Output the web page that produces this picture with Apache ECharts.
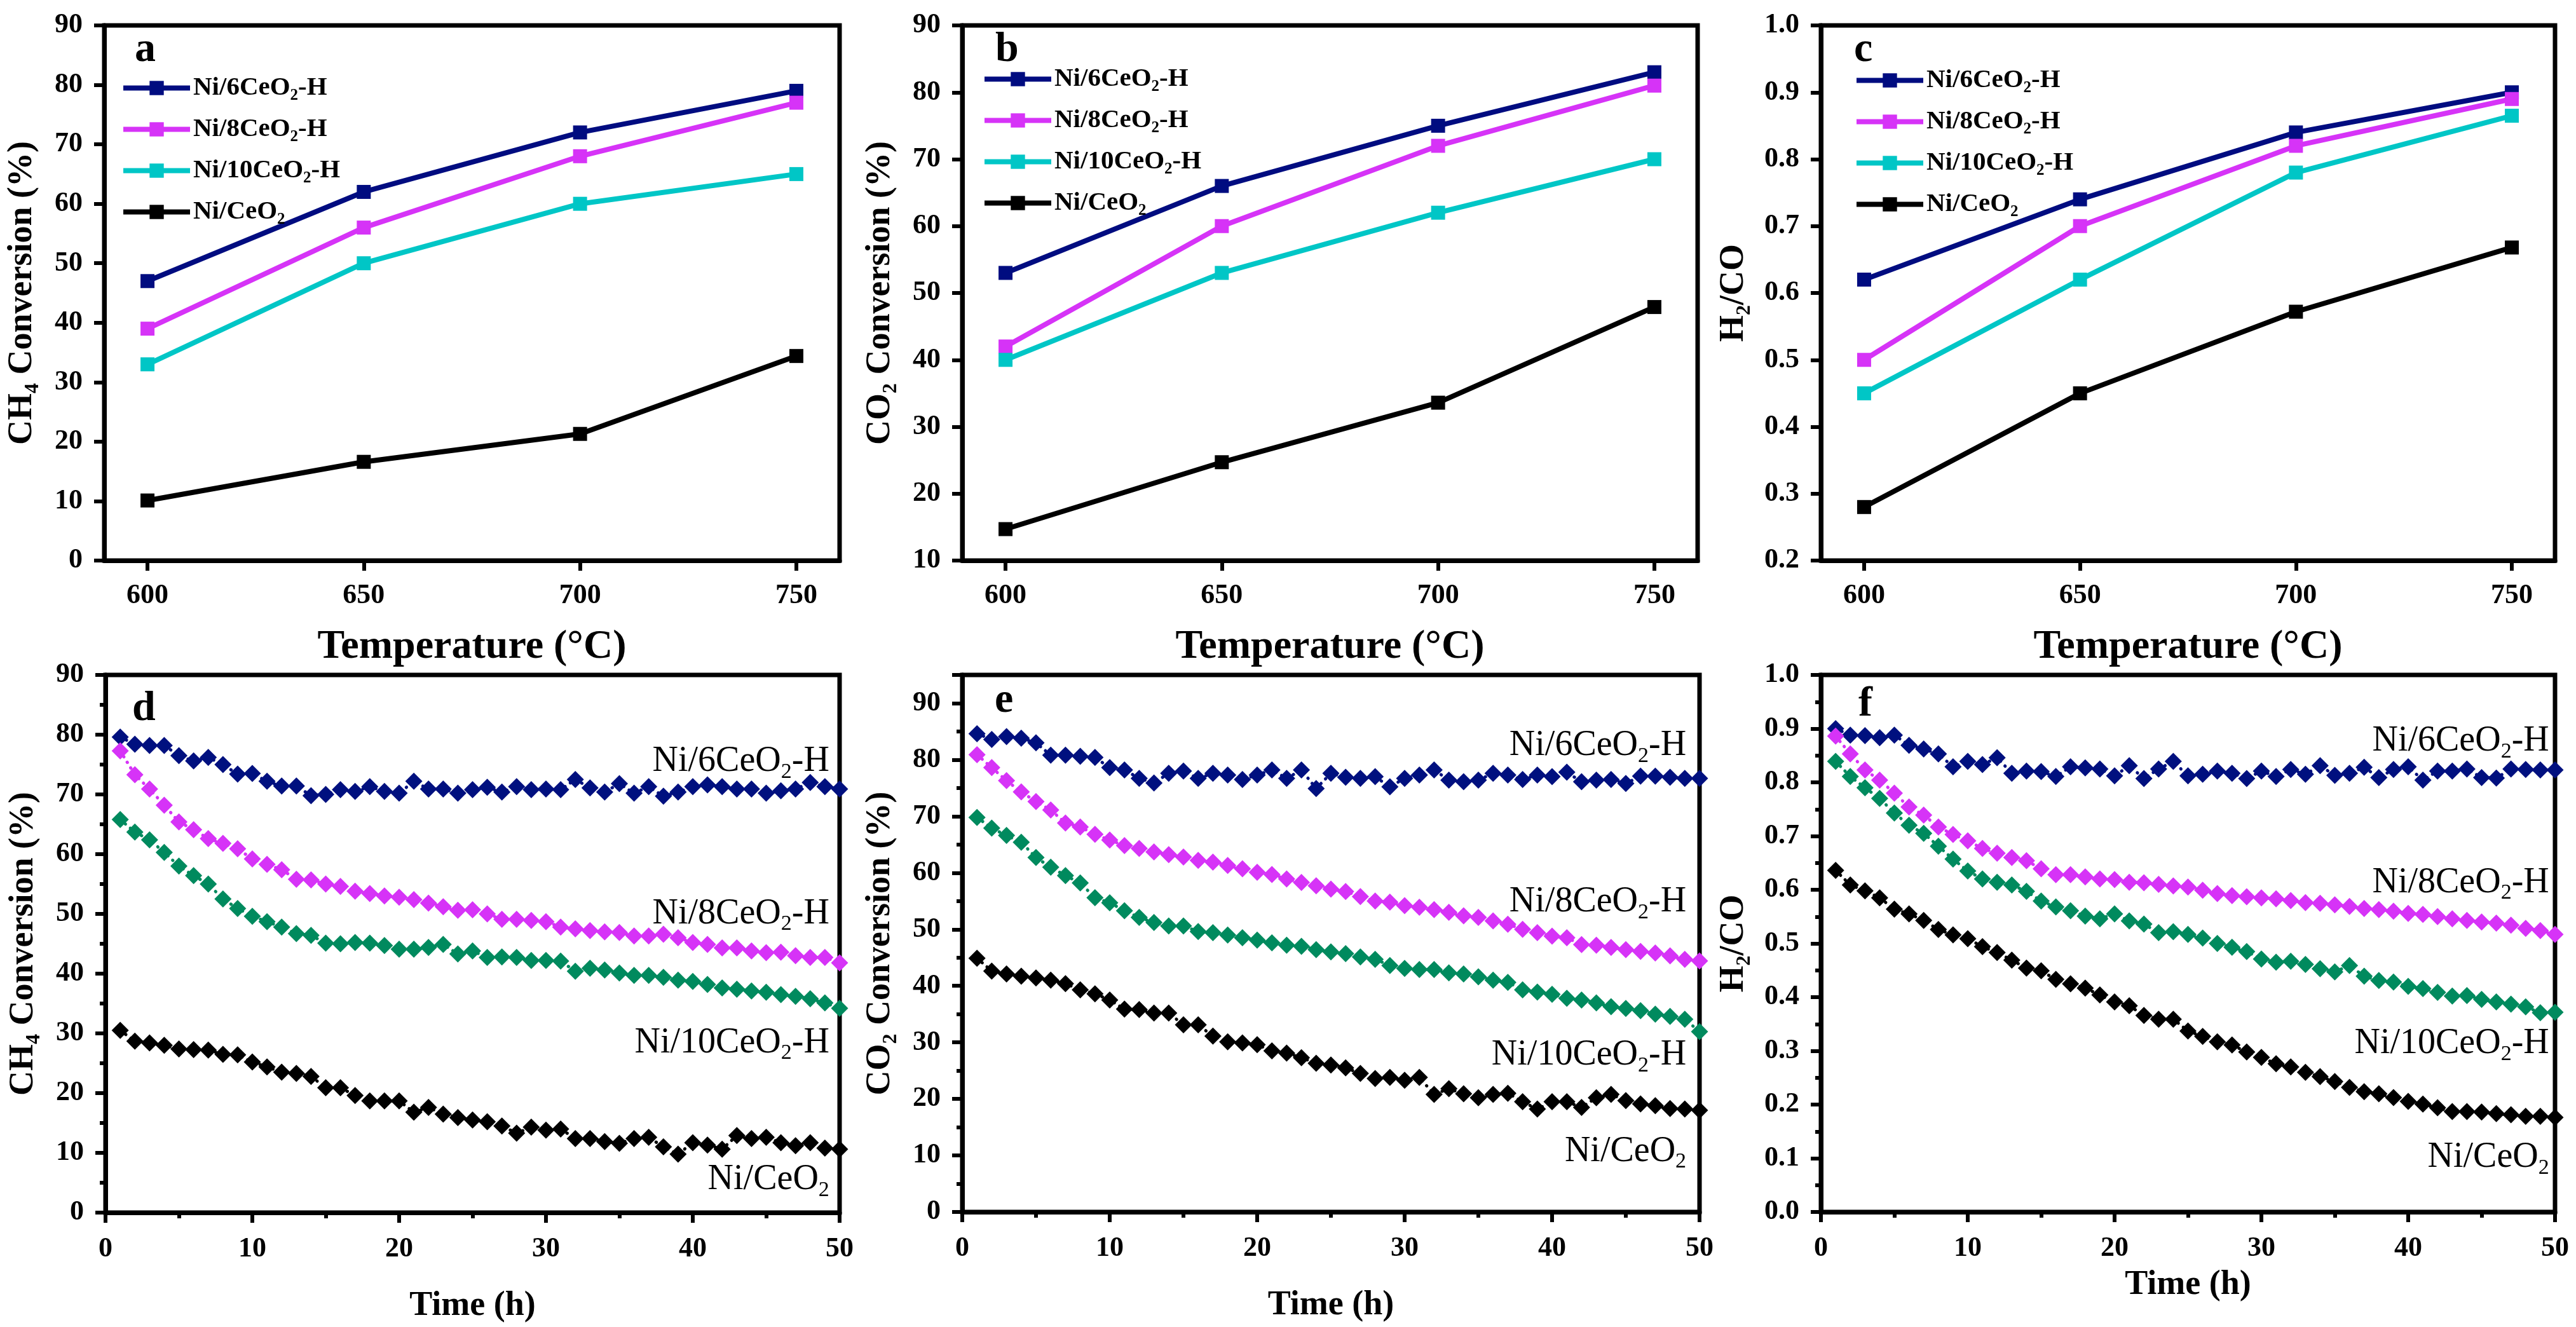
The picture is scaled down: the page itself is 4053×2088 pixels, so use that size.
<!DOCTYPE html>
<html lang="en">
<head>
    <meta charset="UTF-8">
    <title>Ni/CeO2 catalysts</title>
    <script src="https://cdn.jsdelivr.net/npm/echarts@6.0.0/dist/echarts.min.js"></script>
    <style>
        body { margin: 0; background: #fff; }
        #chart { width: 4053px; height: 2088px; }
    </style>
</head>
<body>
<div id="chart"></div>
<script>
    // ---- data ----
    let names = ['Ni/6CeO2-H', 'Ni/8CeO2-H', 'Ni/10CeO2-H', 'Ni/CeO2'];
    let temps = [600, 650, 700, 750];
    let hours = [1, 2, 3, 4, 5, 6, 7, 8, 9, 10, 11, 12, 13, 14, 15, 16, 17, 18, 19, 20,
        21, 22, 23, 24, 25, 26, 27, 28, 29, 30, 31, 32, 33, 34, 35, 36, 37, 38, 39, 40,
        41, 42, 43, 44, 45, 46, 47, 48, 49, 50];

    // a: CH4 conversion vs temperature
    let ch4Temp = [
        [47, 62, 72, 79],
        [39, 56, 68, 77],
        [33, 50, 60, 65],
        [10.1, 16.6, 21.3, 34.4]
    ];
    // b: CO2 conversion vs temperature
    let co2Temp = [
        [53, 66, 75, 83],
        [42, 60, 72, 81],
        [40, 53, 62, 70],
        [14.7, 24.7, 33.6, 47.9]
    ];
    // c: H2/CO vs temperature
    let ratioTemp = [
        [0.62, 0.74, 0.84, 0.90],
        [0.50, 0.70, 0.82, 0.89],
        [0.45, 0.62, 0.78, 0.865],
        [0.28, 0.45, 0.572, 0.668]
    ];

    // d: CH4 conversion vs time
    let ch4Time6 = [79.6, 78.4, 78.2, 78.2, 76.5, 75.6, 76.2, 75.0, 73.4, 73.5, 72.2, 71.4, 71.4, 69.8, 70.0, 70.8, 70.5, 71.3, 70.5, 70.2,
        72.2, 70.9, 70.9, 70.2, 70.8, 71.2, 70.4, 71.3, 70.8, 70.9, 70.8, 72.5, 71.1, 70.4, 71.8, 70.2, 71.3, 69.7, 70.4, 71.3,
        71.6, 71.3, 70.9, 70.9, 70.2, 70.6, 70.9, 72.0, 71.3, 70.9];
    let ch4Time8 = [77.3, 73.3, 70.9, 68.2, 65.4, 64.1, 62.6, 61.8, 60.9, 59.2, 58.3, 57.4, 55.8, 55.7, 55.0, 54.6, 53.8, 53.4, 53.0, 52.8,
        52.4, 51.8, 51.2, 50.6, 50.7, 50.0, 49.1, 49.1, 48.9, 48.7, 47.8, 47.5, 47.2, 47.0, 46.9, 46.3, 46.3, 46.6, 46.0, 45.2,
        44.9, 44.3, 44.3, 43.8, 43.5, 43.6, 43.0, 42.7, 42.7, 41.8];
    let ch4Time10 = [65.8, 63.7, 62.4, 60.3, 58.0, 56.4, 55.0, 52.5, 50.9, 49.6, 48.7, 47.8, 46.7, 46.4, 45.1, 45.0, 45.2, 45.1, 44.7, 44.1,
        44.1, 44.4, 44.9, 43.3, 43.8, 42.7, 42.8, 42.7, 42.2, 42.2, 42.1, 40.4, 40.9, 40.6, 40.1, 39.7, 39.7, 39.4, 38.9, 38.7,
        38.2, 37.6, 37.4, 37.1, 36.9, 36.5, 36.2, 35.8, 35.1, 34.2];
    let ch4TimeBare = [30.5, 28.7, 28.4, 28.0, 27.4, 27.3, 27.2, 26.5, 26.4, 25.2, 24.4, 23.5, 23.3, 22.8, 20.9, 20.9, 19.6, 18.7, 18.7, 18.7,
        16.8, 17.6, 16.5, 15.9, 15.5, 15.2, 14.5, 13.3, 14.3, 13.8, 14.0, 12.4, 12.4, 11.9, 11.6, 12.4, 12.6, 11.0, 9.8, 11.7,
        11.3, 10.6, 12.9, 12.4, 12.6, 11.7, 11.2, 11.7, 10.8, 10.6];

    // e: CO2 conversion vs time
    let co2Time6 = [84.6, 83.6, 84.1, 83.8, 83.0, 80.8, 80.8, 80.6, 80.4, 78.6, 78.2, 76.7, 75.9, 77.6, 78.0, 76.7, 77.6, 77.3, 76.5, 77.3,
        78.2, 76.7, 78.2, 74.9, 77.6, 76.9, 76.7, 77.0, 75.2, 76.7, 77.3, 78.2, 76.4, 76.1, 76.4, 77.6, 77.3, 76.5, 77.3, 77.0,
        77.8, 76.1, 76.4, 76.5, 75.8, 77.1, 77.1, 76.9, 76.7, 76.7];
    let co2Time8 = [80.9, 78.6, 76.3, 74.3, 72.6, 71.1, 68.8, 68.1, 66.8, 65.8, 64.8, 64.3, 63.7, 63.2, 62.8, 62.2, 61.9, 61.3, 60.7, 60.1,
        59.7, 58.9, 58.3, 57.7, 57.1, 56.7, 55.8, 55.0, 54.8, 54.2, 53.9, 53.5, 53.0, 52.4, 52.1, 51.5, 50.9, 50.0, 49.4, 48.8,
        48.5, 47.3, 47.2, 46.8, 46.4, 46.1, 45.8, 45.3, 44.7, 44.4];
    let co2Time10 = [69.8, 67.9, 66.6, 65.4, 62.7, 61.0, 59.5, 58.2, 55.6, 54.7, 53.3, 52.1, 51.2, 50.6, 50.6, 49.6, 49.4, 49.0, 48.5, 48.1,
        47.6, 47.2, 47.0, 46.4, 46.0, 45.7, 45.1, 44.7, 43.6, 43.1, 42.9, 42.9, 42.3, 42.1, 41.6, 41.0, 40.6, 39.3, 38.9, 38.5,
        37.8, 37.5, 37.0, 36.3, 36.0, 35.6, 35.0, 34.6, 34.1, 31.9];
    let co2TimeBare = [44.9, 42.6, 42.1, 41.7, 41.4, 41.0, 40.4, 39.3, 38.6, 37.5, 35.9, 35.8, 35.2, 35.2, 33.1, 33.1, 31.1, 30.1, 29.9, 29.6,
        28.5, 28.1, 27.3, 26.3, 26.0, 25.5, 24.5, 23.6, 23.8, 23.3, 23.8, 20.8, 21.8, 20.9, 20.2, 20.8, 21.0, 19.5, 18.2, 19.5,
        19.5, 18.5, 20.2, 20.8, 19.7, 19.1, 18.8, 18.3, 18.2, 18.0];

    // f: H2/CO vs time
    let ratioTime6 = [0.900, 0.888, 0.887, 0.883, 0.888, 0.869, 0.862, 0.853, 0.829, 0.839, 0.833, 0.846, 0.817, 0.821, 0.820, 0.811, 0.829, 0.827, 0.825, 0.812,
        0.831, 0.807, 0.825, 0.839, 0.812, 0.815, 0.821, 0.817, 0.807, 0.821, 0.811, 0.824, 0.815, 0.831, 0.813, 0.817, 0.828, 0.809, 0.824, 0.829,
        0.804, 0.821, 0.821, 0.825, 0.809, 0.808, 0.825, 0.824, 0.823, 0.823];
    let ratioTime8 = [0.886, 0.853, 0.823, 0.804, 0.780, 0.754, 0.739, 0.717, 0.703, 0.691, 0.677, 0.668, 0.660, 0.654, 0.639, 0.628, 0.628, 0.624, 0.620, 0.619,
        0.614, 0.613, 0.610, 0.607, 0.605, 0.599, 0.593, 0.589, 0.587, 0.585, 0.583, 0.580, 0.576, 0.575, 0.572, 0.569, 0.565, 0.563, 0.560, 0.556,
        0.554, 0.550, 0.546, 0.543, 0.540, 0.538, 0.534, 0.528, 0.524, 0.517];
    let ratioTime10 = [0.839, 0.811, 0.790, 0.770, 0.743, 0.720, 0.705, 0.681, 0.657, 0.635, 0.620, 0.614, 0.609, 0.597, 0.579, 0.568, 0.561, 0.551, 0.546, 0.555,
        0.542, 0.536, 0.520, 0.522, 0.517, 0.510, 0.500, 0.493, 0.485, 0.471, 0.465, 0.467, 0.461, 0.453, 0.447, 0.459, 0.439, 0.431, 0.428, 0.420,
        0.416, 0.409, 0.402, 0.403, 0.396, 0.391, 0.387, 0.382, 0.371, 0.372];
    let ratioTimeBare = [0.636, 0.609, 0.598, 0.585, 0.564, 0.555, 0.543, 0.526, 0.516, 0.509, 0.494, 0.483, 0.469, 0.454, 0.449, 0.433, 0.425, 0.417, 0.404, 0.391,
        0.384, 0.366, 0.359, 0.359, 0.337, 0.327, 0.317, 0.311, 0.298, 0.288, 0.276, 0.270, 0.260, 0.252, 0.243, 0.232, 0.224, 0.220, 0.213, 0.206,
        0.201, 0.194, 0.187, 0.187, 0.186, 0.183, 0.181, 0.178, 0.178, 0.176];

    // ---- styles / layout ----
    let font = 'Liberation Serif';
    let topColors = ['#000c80', '#d633f7', '#00c6c6', '#000000'];
    let timeColors = ['#00107f', '#d633f7', '#008a5e', '#000000'];

    let grids = [
        {left: 164, top: 40, width: 1157, height: 842},
        {left: 1514, top: 40, width: 1157, height: 842},
        {left: 2865, top: 40, width: 1155, height: 842},
        {left: 166, top: 1062, width: 1155, height: 846},
        {left: 1514, top: 1062, width: 1160, height: 845},
        {left: 2865, top: 1062, width: 1155, height: 845}
    ];

    // rich text with a lowered subscript fragment
    function richStyle(size, bold) {
        let lh = Math.round(size * 1.2);
        let shift = Math.round(size * 0.43);
        let w = bold ? 'bold' : 'normal';
        return {
            n: {fontSize: size, lineHeight: lh, fontWeight: w, fontFamily: font, color: '#000'},
            s: {fontSize: Math.round(size * 0.6), lineHeight: lh - 2 * shift, verticalAlign: 'bottom',
                fontWeight: w, fontFamily: font, color: '#000'}
        };
    }

    function sub(name) {
        return '{n|' + name.replace('O2', 'O}{s|2}{n|') + '}';
    }

    let yNames = [
        '{n|CH}{s|4}{n| Conversion (%)}',
        '{n|CO}{s|2}{n| Conversion (%)}',
        '{n|H}{s|2}{n|/CO}'
    ];

    function xAxisTop(i) {
        return {
            type: 'value', gridIndex: i, min: 590, max: 760,
            name: 'Temperature (°C)', nameLocation: 'middle', nameGap: 104,
            nameTextStyle: {fontSize: 64, fontWeight: 'bold', fontFamily: font, color: '#000'},
            axisLine: {show: true, lineStyle: {color: '#000', width: 7}},
            axisTick: {show: true, length: 16, lineStyle: {width: 6, color: '#000'}, customValues: temps},
            axisLabel: {fontSize: 44, fontWeight: 'bold', fontFamily: font, color: '#000', margin: 34, customValues: temps},
            splitLine: {show: false}
        };
    }

    function xAxisTime(i, gap) {
        return {
            type: 'value', gridIndex: i, min: 0, max: 50, interval: 10,
            name: 'Time (h)', nameLocation: 'middle', nameGap: gap,
            nameTextStyle: {fontSize: 54, fontWeight: 'bold', fontFamily: font, color: '#000'},
            axisLine: {show: true, lineStyle: {color: '#000', width: 7}},
            axisTick: {show: true, length: 16, lineStyle: {width: 6, color: '#000'}},
            minorTick: {show: true, splitNumber: 2, length: 9, lineStyle: {width: 6, color: '#000'}},
            axisLabel: {fontSize: 44, fontWeight: 'bold', fontFamily: font, color: '#000', margin: 36},
            splitLine: {show: false}
        };
    }

    function yAxis(i, min, max, step, nameIdx, minor, fmt) {
        return {
            type: 'value', gridIndex: i, min: min, max: max, interval: step,
            name: yNames[nameIdx], nameLocation: 'middle', nameGap: nameIdx === 2 ? 104 : 96,
            nameTextStyle: {rich: richStyle(54, true)},
            axisLine: {show: true, lineStyle: {color: '#000', width: 7}},
            axisTick: {show: true, length: 16, lineStyle: {width: 6, color: '#000'}},
            minorTick: {show: minor, splitNumber: 2, length: 9, lineStyle: {width: 6, color: '#000'}},
            axisLabel: {fontSize: 44, fontWeight: 'bold', fontFamily: font, color: '#000', margin: 34, formatter: fmt},
            splitLine: {show: false}
        };
    }

    let oneDec = function (v) { return v.toFixed(1); };
    let hide95 = function (v) { return v > 90 ? '' : v; };

    let xAxes = [xAxisTop(0), xAxisTop(1), xAxisTop(2), xAxisTime(3, 120), xAxisTime(4, 120), xAxisTime(5, 88)];
    let yAxes = [
        yAxis(0, 0, 90, 10, 0, false),
        yAxis(1, 10, 90, 10, 1, false),
        yAxis(2, 0.2, 1.0, 0.1, 2, false, oneDec),
        yAxis(3, 0, 90, 10, 0, true),
        yAxis(4, 0, 95, 10, 1, true, hide95),
        yAxis(5, 0, 1.0, 0.1, 2, true, oneDec)
    ];

    let series = [];

    // top row: lines with squares
    [ch4Temp, co2Temp, ratioTemp].forEach(function (panel, p) {
        panel.forEach(function (vals, k) {
            series.push({
                type: 'line', name: names[k], xAxisIndex: p, yAxisIndex: p,
                data: temps.map(function (t, j) { return [t, vals[j]]; }),
                symbol: 'rect', symbolSize: 22,
                lineStyle: {width: 8, color: topColors[k]},
                itemStyle: {color: topColors[k]}
            });
        });
    });

    // bottom row: diamonds with dotted joins, names written beside the curves
    let timePanels = [
        [ch4Time6, ch4Time8, ch4Time10, ch4TimeBare],
        [co2Time6, co2Time8, co2Time10, co2TimeBare],
        [ratioTime6, ratioTime8, ratioTime10, ratioTimeBare]
    ];
    let tagSpots = [
        [[49.3, 75.5], [49.3, 50.0], [49.3, 28.4], [49.3, 5.5]],
        [[49.1, 82.5], [49.1, 54.8], [49.1, 27.7], [49.1, 10.7]],
        [[49.6, 0.876], [49.6, 0.613], [49.6, 0.313], [49.6, 0.101]]
    ];
    timePanels.forEach(function (panel, p) {
        panel.forEach(function (vals, k) {
            series.push({
                type: 'line', name: names[k], xAxisIndex: p + 3, yAxisIndex: p + 3,
                data: hours.map(function (h, j) { return [h, vals[j]]; }),
                symbol: 'diamond', symbolSize: 27, showAllSymbol: true,
                lineStyle: {width: 5, color: timeColors[k], type: [0.5, 10], cap: 'round'},
                itemStyle: {color: timeColors[k]},
                markPoint: {
                    symbol: 'circle', symbolSize: 0, silent: true,
                    label: {show: true, position: 'left', distance: 0, rich: richStyle(56, false)},
                    data: [{coord: tagSpots[p][k], label: {formatter: sub(names[k])}}]
                }
            });
        });
    });

    let legendSpots = [{left: 185, top: 113}, {left: 1540, top: 99}, {left: 2912, top: 101}];
    let legends = legendSpots.map(function (pos) {
        return {
            left: pos.left, top: pos.top, orient: 'vertical', data: names,
            itemWidth: 105, itemHeight: 28, itemGap: 20, selectedMode: false,
            lineStyle: {width: 8},
            formatter: sub,
            textStyle: {rich: richStyle(41, true)}
        };
    });

    let letters = [
        {text: 'a', left: 212, top: 46}, {text: 'b', left: 1566, top: 46}, {text: 'c', left: 2917, top: 46},
        {text: 'd', left: 208, top: 1083}, {text: 'e', left: 1565, top: 1070}, {text: 'f', left: 2924, top: 1076}
    ];
    let titles = letters.map(function (l) {
        return {text: l.text, left: l.left, top: l.top, padding: 0,
            textStyle: {fontSize: 66, fontWeight: 'bold', fontFamily: font, color: '#000'}};
    });

    let myChart = echarts.init(document.getElementById('chart'));
    myChart.setOption({
        animation: false,
        backgroundColor: '#fff',
        title: titles,
        legend: legends,
        grid: grids.map(function (g) {
            return Object.assign({show: true, borderColor: '#000', borderWidth: 7, backgroundColor: 'transparent'}, g);
        }),
        xAxis: xAxes,
        yAxis: yAxes,
        series: series
    });
</script>
</body>
</html>
